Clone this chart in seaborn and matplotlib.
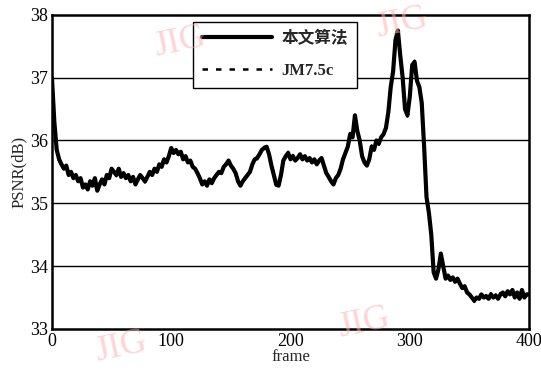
import numpy as np
import pandas as pd
import matplotlib
matplotlib.use("Agg")
import matplotlib.pyplot as plt
import seaborn as sns

# frame index (every 2nd frame)
frames = list(range(0, 401, 2))

# PSNR of the proposed method (dB)
psnr_ours = [
    37.00, 36.30, 35.85, 35.70, 35.62, 35.55, 35.60, 35.45, 35.50, 35.40,
    35.45, 35.35, 35.40, 35.25, 35.30, 35.22, 35.35, 35.28, 35.40, 35.20,
    35.30, 35.38, 35.30, 35.45, 35.40, 35.55, 35.50, 35.45, 35.55, 35.42,
    35.48, 35.40, 35.45, 35.35, 35.42, 35.30, 35.38, 35.45, 35.40, 35.35,
    35.42, 35.50, 35.45, 35.55, 35.50, 35.62, 35.58, 35.70, 35.65, 35.75,
    35.88, 35.80, 35.85, 35.78, 35.82, 35.70, 35.75, 35.65, 35.68, 35.58,
    35.55, 35.48, 35.40, 35.30, 35.35, 35.28, 35.38, 35.32, 35.40, 35.45,
    35.50, 35.48, 35.58, 35.62, 35.68, 35.60, 35.55, 35.48, 35.35, 35.28,
    35.35, 35.40, 35.45, 35.50, 35.62, 35.70, 35.72, 35.78, 35.85, 35.88,
    35.90, 35.78, 35.60, 35.45, 35.30, 35.28, 35.45, 35.68, 35.75, 35.80,
    35.70, 35.75, 35.68, 35.72, 35.78, 35.70, 35.75, 35.68, 35.72, 35.65,
    35.70, 35.62, 35.68, 35.72, 35.60, 35.48, 35.42, 35.35, 35.30, 35.40,
    35.45, 35.55, 35.70, 35.80, 35.90, 36.10, 36.05, 36.40, 36.15, 36.00,
    35.75, 35.65, 35.60, 35.70, 35.90, 35.85, 36.00, 35.95, 36.05, 36.10,
    36.20, 36.45, 36.85, 37.10, 37.60, 37.75, 37.35, 37.00, 36.50, 36.40,
    36.70, 37.20, 37.25, 36.95, 36.85, 36.60, 35.90, 35.10, 34.85, 34.50,
    33.90, 33.80, 33.95, 34.20, 34.00, 33.80, 33.85, 33.78, 33.82, 33.75,
    33.80, 33.72, 33.65, 33.68, 33.58, 33.55, 33.50, 33.45, 33.50, 33.48,
    33.55, 33.50, 33.52, 33.48, 33.55, 33.50, 33.53, 33.48, 33.55, 33.58,
    33.52, 33.60, 33.55, 33.62, 33.50, 33.58, 33.48, 33.62, 33.50, 33.55,
    33.55,
]

# PSNR of the JM7.5c reference encoder (dB)
psnr_jm = [
    36.98, 36.28, 35.83, 35.68, 35.60, 35.57, 35.58, 35.47, 35.48, 35.42,
    35.43, 35.37, 35.38, 35.27, 35.28, 35.24, 35.33, 35.30, 35.38, 35.22,
    35.28, 35.36, 35.32, 35.43, 35.42, 35.53, 35.52, 35.43, 35.53, 35.44,
    35.46, 35.42, 35.43, 35.37, 35.40, 35.32, 35.36, 35.43, 35.42, 35.33,
    35.40, 35.48, 35.47, 35.53, 35.52, 35.60, 35.60, 35.68, 35.67, 35.73,
    35.86, 35.82, 35.83, 35.80, 35.80, 35.72, 35.73, 35.67, 35.66, 35.60,
    35.53, 35.50, 35.38, 35.32, 35.33, 35.30, 35.36, 35.34, 35.38, 35.47,
    35.48, 35.50, 35.56, 35.64, 35.66, 35.62, 35.53, 35.50, 35.33, 35.30,
    35.33, 35.42, 35.43, 35.52, 35.60, 35.72, 35.70, 35.80, 35.83, 35.90,
    35.88, 35.80, 35.58, 35.47, 35.28, 35.30, 35.43, 35.70, 35.73, 35.82,
    35.68, 35.77, 35.66, 35.74, 35.76, 35.72, 35.73, 35.70, 35.70, 35.67,
    35.68, 35.64, 35.66, 35.74, 35.58, 35.50, 35.40, 35.37, 35.28, 35.42,
    35.43, 35.57, 35.68, 35.82, 35.88, 36.12, 36.03, 36.38, 36.17, 35.98,
    35.77, 35.63, 35.62, 35.68, 35.92, 35.83, 36.02, 35.93, 36.07, 36.08,
    36.22, 36.43, 36.87, 37.08, 37.62, 37.73, 37.37, 36.98, 36.52, 36.38,
    36.72, 37.18, 37.27, 36.93, 36.87, 36.58, 35.92, 35.08, 34.87, 34.48,
    33.92, 33.78, 33.97, 34.18, 34.02, 33.78, 33.87, 33.76, 33.84, 33.73,
    33.82, 33.70, 33.67, 33.66, 33.60, 33.53, 33.52, 33.43, 33.52, 33.46,
    33.57, 33.48, 33.54, 33.46, 33.57, 33.48, 33.55, 33.46, 33.57, 33.56,
    33.54, 33.58, 33.57, 33.60, 33.52, 33.56, 33.50, 33.60, 33.52, 33.53,
    33.57,
]

label_ours = "本文算法"
label_jm = "JM7.5c"
x_ticks = [0, 100, 200, 300, 400]
y_ticks = [33, 34, 35, 36, 37, 38]

df = pd.DataFrame({"frame": frames, label_ours: psnr_ours, label_jm: psnr_jm})

sns.set_style("white")
plt.rcParams["font.family"] = ["Liberation Serif", "Noto Sans CJK SC", "DejaVu Sans"]

fig = plt.figure(figsize=(5.41, 3.70), dpi=100)
ax = fig.add_axes([0.096, 0.111, 0.882, 0.849])

sns.lineplot(data=df, x="frame", y=label_jm, ax=ax, color="black",
             linewidth=1.8, linestyle=(0, (2.2, 3.2)), label=label_jm, zorder=3)
sns.lineplot(data=df, x="frame", y=label_ours, ax=ax, color="black",
             linewidth=3.0, label=label_ours, zorder=4)

ax.set_xlim(0, 400)
ax.set_ylim(33, 38)
ax.set_xticks(x_ticks)
ax.set_yticks(y_ticks)
ax.set_xticklabels([str(t) for t in x_ticks], fontsize=13)
ax.set_yticklabels([str(t) for t in y_ticks], fontsize=13)
ax.tick_params(axis="both", direction="in", length=3, width=1, pad=3, colors="black")
ax.set_xlabel("frame", fontsize=12, labelpad=-1)
ax.set_ylabel("PSNR(dB)", fontsize=12, labelpad=2)

for y in y_ticks[1:-1]:
    ax.axhline(y, color="black", linewidth=1.0, zorder=1)

for s in ax.spines.values():
    s.set_color("black")
    s.set_linewidth(1.8)

handles, labels = ax.get_legend_handles_labels()
order = [labels.index(label_ours), labels.index(label_jm)]
leg = ax.legend([handles[i] for i in order], [labels[i] for i in order],
                loc="upper left", bbox_to_anchor=(0.2956, 0.978),
                borderaxespad=0.0,
                frameon=True, fancybox=False, edgecolor="black",
                handlelength=4.2, handletextpad=0.55, borderpad=0.55,
                labelspacing=0.95, prop={"size": 12, "weight": "bold"})
leg.get_frame().set_linewidth(1.0)
leg.get_frame().set_alpha(1.0)
leg.set_zorder(5)

# faint watermark stamps
wm = dict(color="#ffb0b0", fontsize=26, alpha=0.55, family="Liberation Serif",
          rotation=12, zorder=10)
fig.text(0.28, 0.85, "JIG", **wm)
fig.text(0.69, 0.90, "JIG", **wm)
fig.text(0.17, 0.025, "JIG", **wm)
fig.text(0.62, 0.09, "JIG", **wm)

fig.savefig("out.png", dpi=100)
